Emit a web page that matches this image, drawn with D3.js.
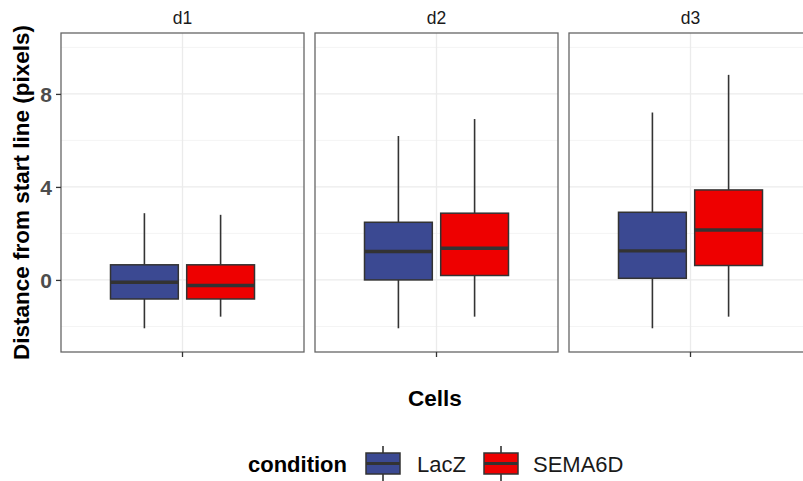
<!DOCTYPE html>
<html>
<head>
<meta charset="utf-8">
<script src="https://cdn.jsdelivr.net/npm/d3@7"></script>
<style>
  body { margin: 0; background: #fff; }
  text { font-family: "Liberation Sans", Arial, sans-serif; }
</style>
</head>
<body>
<div id="chart"></div>
<script>
// facets and groups
var days = ["d1", "d2", "d3"];
var conditions = ["LacZ", "SEMA6D"];
var colors = ["#3B4992", "#EE0000"];

// box stats per day, order LacZ then SEMA6D
var whiskerLow = [[-2.08, -1.58], [-2.08, -1.58], [-2.08, -1.58]];
var q1         = [[-0.82, -0.82], [0.0, 0.19], [0.07, 0.62]];
var medians    = [[-0.10, -0.24], [1.22, 1.36], [1.25, 2.15]];
var q3         = [[0.65, 0.65], [2.48, 2.87], [2.91, 3.87]];
var whiskerHigh = [[2.87, 2.80], [6.19, 6.92], [7.20, 8.82]];

var yMajor = [0, 4, 8];
var yMinor = [-2, 2, 6, 10];

var svgWidth = 803, svgHeight = 481;
var panelTop = 33, panelBottom = 352;
var panelW = 243, panelGap = 11, panelLeft = 61;

var svg = d3.select("#chart").append("svg")
    .attr("width", svgWidth)
    .attr("height", svgHeight);

var y = d3.scaleLinear().domain([-3.1, 10.62]).range([panelBottom, panelTop]);

// facet scale
var fx = d3.scaleBand().domain(days)
    .range([panelLeft, panelLeft + 3 * panelW + 2 * panelGap])
    .paddingInner(panelGap / (panelW + panelGap));

days.forEach(function(day, i) {
    var x0 = fx(day);
    var cx = x0 + fx.bandwidth() / 2;
    var g = svg.append("g");

    // inner dodge scale
    var xb = d3.scaleBand().domain(conditions)
        .range([cx - 72, cx + 72])
        .paddingInner(0.11);

    // grid
    g.selectAll(".minor").data(yMinor).enter().append("line")
        .attr("x1", x0).attr("x2", x0 + fx.bandwidth())
        .attr("y1", d => y(d)).attr("y2", d => y(d))
        .attr("stroke", "#f4f4f4").attr("stroke-width", 1);
    g.selectAll(".major").data(yMajor).enter().append("line")
        .attr("x1", x0).attr("x2", x0 + fx.bandwidth())
        .attr("y1", d => y(d)).attr("y2", d => y(d))
        .attr("stroke", "#ebebeb").attr("stroke-width", 1.3);
    g.append("line")
        .attr("x1", cx).attr("x2", cx)
        .attr("y1", panelTop).attr("y2", panelBottom)
        .attr("stroke", "#ebebeb").attr("stroke-width", 1.3);

    // boxes
    conditions.forEach(function(c, j) {
        var bx = xb(c), bw = xb.bandwidth(), mx = bx + bw / 2;
        g.append("line")
            .attr("x1", mx).attr("x2", mx)
            .attr("y1", y(whiskerHigh[i][j])).attr("y2", y(q3[i][j]))
            .attr("stroke", "#333").attr("stroke-width", 1.6);
        g.append("line")
            .attr("x1", mx).attr("x2", mx)
            .attr("y1", y(q1[i][j])).attr("y2", y(whiskerLow[i][j]))
            .attr("stroke", "#333").attr("stroke-width", 1.6);
        g.append("rect")
            .attr("x", bx).attr("width", bw)
            .attr("y", y(q3[i][j]))
            .attr("height", y(q1[i][j]) - y(q3[i][j]))
            .attr("fill", colors[j])
            .attr("stroke", "#333").attr("stroke-width", 1.5);
        g.append("line")
            .attr("x1", bx).attr("x2", bx + bw)
            .attr("y1", y(medians[i][j])).attr("y2", y(medians[i][j]))
            .attr("stroke", "#333").attr("stroke-width", 3.4);
    });

    // border
    g.append("rect")
        .attr("x", x0).attr("y", panelTop)
        .attr("width", fx.bandwidth()).attr("height", panelBottom - panelTop)
        .attr("fill", "none").attr("stroke", "#666").attr("stroke-width", 1.3);

    // strip
    g.append("text")
        .attr("x", cx).attr("y", 24)
        .attr("text-anchor", "middle")
        .style("font-size", "17.5px")
        .style("fill", "#1a1a1a")
        .text(day);

    // x tick
    g.append("line")
        .attr("x1", cx).attr("x2", cx)
        .attr("y1", panelBottom).attr("y2", panelBottom + 5)
        .attr("stroke", "#333").attr("stroke-width", 1.3);
});

// y axis on first panel
var yAxis = d3.axisLeft(y).tickValues(yMajor).tickSize(5).tickPadding(4);
var ya = svg.append("g")
    .attr("transform", "translate(" + panelLeft + ",0)")
    .call(yAxis);
ya.select(".domain").remove();
ya.selectAll(".tick line").attr("stroke", "#333").attr("stroke-width", 1.3);
ya.selectAll(".tick text")
    .style("font-size", "21px")
    .style("font-weight", "bold")
    .style("fill", "#4d4d4d")
    .attr("dy", "0.36em");

// axis titles
svg.append("text")
    .attr("transform", "translate(29," + ((panelTop + panelBottom) / 2) + ") rotate(-90)")
    .attr("text-anchor", "middle")
    .style("font-size", "22.5px")
    .style("font-weight", "bold")
    .style("fill", "#000")
    .text("Distance from start line (pixels)");

svg.append("text")
    .attr("x", 435).attr("y", 406)
    .attr("text-anchor", "middle")
    .style("font-size", "22.5px")
    .style("font-weight", "bold")
    .style("fill", "#000")
    .text("Cells");

// legend
var legend = svg.append("g");
legend.append("text")
    .attr("x", 248).attr("y", 472)
    .style("font-size", "22px")
    .style("font-weight", "bold")
    .text("condition");

var keyX = [366, 484];
var labelX = [417, 533];
conditions.forEach(function(c, j) {
    var k = legend.append("g");
    k.append("line")
        .attr("x1", keyX[j] + 17).attr("x2", keyX[j] + 17)
        .attr("y1", 446).attr("y2", 481)
        .attr("stroke", "#333").attr("stroke-width", 1.6);
    k.append("rect")
        .attr("x", keyX[j]).attr("y", 453)
        .attr("width", 34).attr("height", 21)
        .attr("fill", colors[j])
        .attr("stroke", "#333").attr("stroke-width", 1.5);
    k.append("line")
        .attr("x1", keyX[j]).attr("x2", keyX[j] + 34)
        .attr("y1", 463.5).attr("y2", 463.5)
        .attr("stroke", "#333").attr("stroke-width", 3);
    k.append("text")
        .attr("x", labelX[j]).attr("y", 472)
        .style("font-size", "22px")
        .style("fill", "#1a1a1a")
        .text(c);
});
</script>
</body>
</html>
